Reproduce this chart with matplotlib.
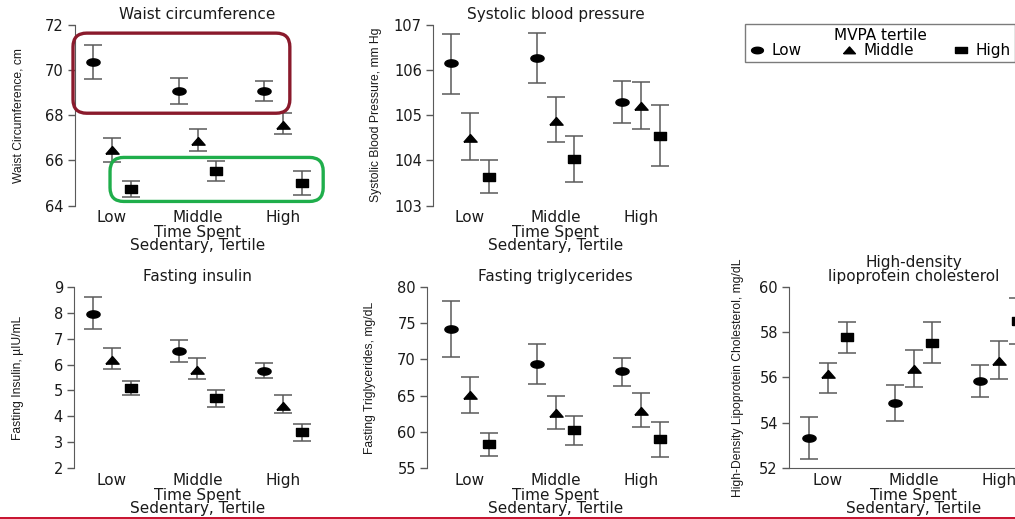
import matplotlib
matplotlib.use("Agg")
import matplotlib.pyplot as plt
import numpy as np
from matplotlib.path import Path
from matplotlib.patches import FancyBboxPatch
from matplotlib.lines import Line2D

# ── Data ──────────────────────────────────────────────────────────────────────
SED_TERTILES = ["Low", "Middle", "High"]
MVPA_TERTILES = ["Low", "Middle", "High"]

# each row: MVPA tertile (Low, Middle, High); columns: sedentary tertile
WAIST_MEAN = [[70.35, 69.07, 69.07], [66.45, 66.87, 67.57], [64.75, 65.54, 65.01]]
WAIST_LO   = [[69.60, 68.50, 68.63], [65.94, 66.43, 67.18], [64.38, 65.08, 64.48]]
WAIST_HI   = [[71.11, 69.66, 69.54], [66.99, 67.38, 68.10], [65.07, 65.96, 65.54]]

SBP_MEAN = [[106.15, 106.27, 105.29], [104.50, 104.88, 105.20], [103.64, 104.03, 104.53]]
SBP_LO   = [[105.47, 105.72, 104.82], [104.00, 104.41, 104.70], [103.27, 103.52, 103.87]]
SBP_HI   = [[106.81, 106.82, 105.76], [105.05, 105.40, 105.74], [104.00, 104.53, 105.22]]

INS_MEAN = [[7.95, 6.51, 5.75], [6.18, 5.79, 4.42], [5.11, 4.70, 3.38]]
INS_LO   = [[7.36, 6.09, 5.47], [5.83, 5.44, 4.12], [4.84, 4.35, 3.04]]
INS_HI   = [[8.61, 6.93, 6.05], [6.62, 6.27, 4.83], [5.35, 5.01, 3.71]]

TG_MEAN = [[74.13, 69.31, 68.35], [65.05, 62.57, 62.94], [58.35, 60.23, 58.99]]
TG_LO   = [[70.37, 66.65, 66.33], [62.66, 60.46, 60.64], [56.70, 58.17, 56.61]]
TG_HI   = [[78.03, 72.11, 70.23], [67.57, 64.95, 65.37], [59.91, 62.25, 61.38]]

HDL_MEAN = [[53.33, 54.89, 55.84], [56.15, 56.36, 56.74], [57.80, 57.53, 58.49]]
HDL_LO   = [[52.42, 54.07, 55.15], [55.33, 55.59, 55.95], [57.08, 56.64, 57.46]]
HDL_HI   = [[54.27, 55.68, 56.53], [56.65, 57.21, 57.62], [58.46, 58.43, 59.52]]

# ── Style ─────────────────────────────────────────────────────────────────────
W, H = 1015, 519
plt.rcParams["font.family"] = ["DejaVu Sans"]
TXT = "#1a1a1a"
GREY = "#5a5a5a"
FS = 11


def shape(points):
    return Path(np.asarray(points, dtype=float))


t = np.linspace(0, 2 * np.pi, 60)
ELLIPSE = shape(np.column_stack([np.cos(t), 0.55 * np.sin(t)]))
TRIANGLE = shape([(-1, -0.55), (1, -0.55), (0, 0.6), (-1, -0.55)])
RECT = shape([(-1, -0.62), (1, -0.62), (1, 0.62), (-1, 0.62), (-1, -0.62)])
MARKERS = [ELLIPSE, TRIANGLE, RECT]
MSIZES = [9.5, 9.5, 9.0]
OFFSET = 0.222

fig = plt.figure(figsize=(W / 100, H / 100), dpi=100)

# box = (spine px, low tick px, top px, bottom px)
PANELS = [
    dict(box=(75, 112, 25, 205.5), mean=WAIST_MEAN, lo=WAIST_LO, hi=WAIST_HI,
         ylim=(64, 72), ticks=np.arange(64, 73, 2), title="Waist circumference",
         ylabel="Waist Circumference, cm", lab=50),
    dict(box=(433, 470, 25, 205.5), mean=SBP_MEAN, lo=SBP_LO, hi=SBP_HI,
         ylim=(103, 107), ticks=np.arange(103, 108, 1), title="Systolic blood pressure",
         ylabel="Systolic Blood Pressure, mm Hg", lab=51),
    dict(box=(74, 112, 286.7, 468.3), mean=INS_MEAN, lo=INS_LO, hi=INS_HI,
         ylim=(2, 9), ticks=np.arange(2, 10, 1), title="Fasting insulin",
         ylabel="Fasting Insulin, \u00b5IU/mL", lab=50),
    dict(box=(427, 470, 286.7, 468.3), mean=TG_MEAN, lo=TG_LO, hi=TG_HI,
         ylim=(55, 80), ticks=np.arange(55, 81, 5), title="Fasting triglycerides",
         ylabel="Fasting Triglycerides, mg/dL", lab=51),
    dict(box=(789, 828, 286.7, 468.3), mean=HDL_MEAN, lo=HDL_LO, hi=HDL_HI,
         ylim=(52, 60), ticks=np.arange(52, 61, 2),
         title="High-density\nlipoprotein cholesterol",
         ylabel="High-Density Lipoprotein Cholesterol, mg/dL", lab=45, bottom=True),
]

SPACING = 85.5
axes = []
for p in PANELS:
    spine, low, top, bot = p["box"]
    left_units = (low - spine) / SPACING
    x0, x1 = -left_units, 2 + left_units
    width = (x1 - x0) * SPACING
    ax = fig.add_axes([spine / W, 1 - bot / H, width / W, (bot - top) / H])
    axes.append(ax)
    x = np.arange(len(SED_TERTILES))
    for k in range(3):
        m = np.array(p["mean"][k])
        lo = np.array(p["lo"][k])
        hi = np.array(p["hi"][k])
        ax.errorbar(x + (k - 1) * OFFSET, m, yerr=[m - lo, hi - m], fmt="none",
                    ecolor=GREY, elinewidth=1.1, capsize=6.5, capthick=1.1,
                    zorder=2, clip_on=False)
        ax.plot(x + (k - 1) * OFFSET, m, linestyle="none", marker=MARKERS[k],
                markersize=MSIZES[k], color="black", zorder=3, clip_on=False)
    ax.set_xlim(x0, x1)
    ax.set_ylim(*p["ylim"])
    ax.set_yticks(p["ticks"])
    ax.set_xticks(x)
    ax.set_xticklabels(SED_TERTILES)
    ax.tick_params(axis="x", length=0, pad=3.5, labelsize=FS, labelcolor=TXT)
    ax.tick_params(axis="y", length=5, width=1, color=GREY, pad=3,
                   labelsize=FS - 0.5, labelcolor=TXT)
    for s in ["top", "right"]:
        ax.spines[s].set_visible(False)
    ax.spines["bottom"].set_visible(p.get("bottom", False))
    ax.spines["left"].set_color(GREY)
    ax.spines["bottom"].set_color(GREY)
    ax.set_title(p["title"], fontsize=FS, color=TXT, pad=4, linespacing=0.95)
    ax.set_xlabel("Time Spent\nSedentary, Tertile", fontsize=FS, color=TXT,
                  labelpad=0, linespacing=0.82)
    ax.set_ylabel(p["ylabel"], fontsize=8.7, color=TXT, family="Liberation Sans")
    ax.yaxis.set_label_coords(-p["lab"] / width, 0.5)

# ── Highlight boxes on the waist panel ───────────────────────────────────────
ax = axes[0]
aspect = (1 / 22.5) / (1 / SPACING)
for (bx0, by0, bx1, by1), col in [((-0.456, 68.09, 2.08, 71.64), "#8a1a2c"),
                                  ((-0.023, 64.18, 2.47, 66.13), "#1fae4b")]:
    ax.add_patch(FancyBboxPatch((bx0, by0), bx1 - bx0, by1 - by0,
                                boxstyle="round,pad=0,rounding_size=0.16",
                                mutation_aspect=aspect, fill=False,
                                edgecolor=col, linewidth=2.4,
                                transform=ax.transData, clip_on=False, zorder=4))

# ── Legend ────────────────────────────────────────────────────────────────────
handles = [Line2D([], [], linestyle="none", marker=MARKERS[k], markersize=MSIZES[k] - 1,
                  color="black") for k in range(3)]
leg = fig.legend(handles, MVPA_TERTILES, title="MVPA tertile", ncol=3,
                 loc="center", bbox_to_anchor=(880 / W, 1 - 43 / H),
                 fontsize=FS, title_fontsize=FS, frameon=True, fancybox=False,
                 handlelength=1.0, handletextpad=0.45, columnspacing=2.6,
                 borderpad=0.25, labelspacing=0.2, borderaxespad=0)
leg.get_frame().set_edgecolor(GREY)
leg.get_frame().set_linewidth(1.0)
leg._legend_box.sep = 0

# red rule at the bottom
fig.add_artist(Line2D([0, 1], [1 - 517.5 / H] * 2, transform=fig.transFigure,
                      color="#c8102e", linewidth=1.4))

fig.savefig("out.png", dpi=100)
